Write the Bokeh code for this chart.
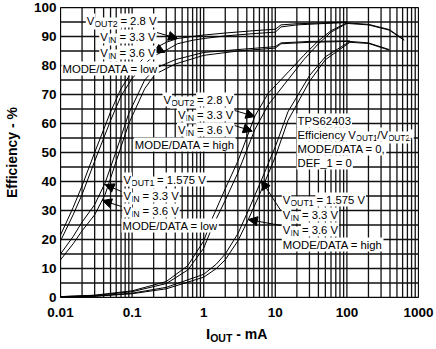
from bokeh.plotting import figure
from bokeh.layouts import column
from bokeh.models import Range1d, FixedTicker, Label, Arrow, NormalHead, Div
from bokeh.embed import file_html
from bokeh.resources import INLINE

# ---------------- data ----------------
x_ticks = [0.01, 0.1, 1, 10, 100, 1000]
x_tick_labels = ["0.01", "0.1", "1", "10", "100", "1000"]
y_ticks = [0, 10, 20, 30, 40, 50, 60, 70, 80, 90, 100]
y_tick_labels = ["0", "10", "20", "30", "40", "50", "60", "70", "80", "90", "100"]

# VOUT2 = 2.8 V, MODE/DATA = low
low_v2_x = [0.01, 0.015, 0.02, 0.03, 0.05, 0.07, 0.1, 0.15, 0.2, 0.3, 0.43, 0.7, 1, 2, 5, 10, 12, 20, 50, 100]
low_v2_vin33 = [21.5, 31, 38.5, 50, 64, 72, 78, 83, 85.7, 88, 89.3, 90, 90.5, 91.2, 92, 92.5, 94, 94.4, 94.7, 95]
low_v2_vin36 = [19.5, 28.5, 35.5, 47, 61, 69.5, 75.5, 80.5, 83.3, 85.3, 87.5, 88.7, 89.3, 90.2, 91, 91.5, 93.3, 94, 94.5, 94.8]

# VOUT1 = 1.575 V, MODE/DATA = low
low_v1_x = [0.01, 0.015, 0.02, 0.03, 0.042, 0.06, 0.09, 0.15, 0.21, 0.4, 1, 3, 10, 12, 30, 110]
low_v1_vin33 = [15, 21, 26, 32, 39.5, 50.5, 63.5, 75, 79, 82, 84.5, 85.5, 86.5, 87.8, 88.3, 88.5]
low_v1_vin36 = [13, 18.5, 23, 28.5, 35.5, 47, 60, 72, 77, 80.5, 83.5, 85, 86, 87.5, 88, 88.3]

# VOUT2 = 2.8 V, MODE/DATA = high
high_v2_x = [0.01, 0.03, 0.1, 0.3, 0.6, 1, 1.3, 2, 3, 5.2, 8, 15.5, 25, 40, 60, 100, 200, 390, 630]
high_v2_vin33 = [0.3, 0.8, 2.3, 5.5, 11, 19.5, 27, 37.5, 47, 62.6, 70.5, 78, 83.5, 88.5, 92, 94.7, 94.2, 92.4, 88.9]
high_v2_vin36 = [0.3, 0.7, 2.0, 4.8, 9.5, 17, 24, 33.5, 43, 58, 66.5, 75.5, 82, 87.5, 91.5, 94.5, 94.0, 92.2, 88.7]

# VOUT1 = 1.575 V, MODE/DATA = high
high_v1_x = [0.01, 0.03, 0.1, 0.3, 1, 1.5, 2, 3, 4.2, 6.4, 10, 15, 30, 50, 110, 200, 390]
high_v1_vin33 = [0.2, 0.5, 1.5, 3.5, 8, 11.5, 15, 22, 30, 40.5, 52, 64, 76.5, 83, 88.3, 87.8, 85.5]
high_v1_vin36 = [0.2, 0.4, 1.3, 3.0, 7, 10, 13, 19.5, 26.9, 37, 48.5, 61, 74.5, 82, 88.0, 87.6, 85.3]

# ---------------- layout helpers ----------------
FONT = "Liberation Sans"
L, R, T, B = 54, 418, 7, 297
FIG_H = 325
DEC = (R - L) / 5.0
YS = (B - T) / 100.0
PAD = 1


def px_x(px):
    return 10 ** (-2 + (px - L) / DEC)


def px_y(py):
    return (B - py) / YS


W = {' ': 278, '=': 584, '.': 278, ',': 278, '/': 278, '_': 556, '-': 333,
     'V': 667, 'O': 778, 'U': 722, 'T': 611, 'I': 278, 'N': 722, 'M': 833, 'D': 722,
     'E': 667, 'A': 667, 'P': 667, 'S': 667, 'F': 611,
     'l': 222, 'o': 556, 'w': 722, 'h': 556, 'i': 222, 'g': 556, 'f': 278, 'c': 500,
     'e': 556, 'n': 556, 'y': 500, 'm': 833}


def tw(s, size):
    return sum(W.get(c, 556) for c in s) * size / 1000.0


MAIN, SUB = 11.3, 8.8

p = figure(width=436, height=FIG_H, x_axis_type="log",
           x_range=Range1d(0.01, 1000), y_range=Range1d(0, 100),
           output_backend="svg", toolbar_location=None,
           min_border_left=L, min_border_right=436 - R,
           min_border_top=T, min_border_bottom=FIG_H - B)
p.background_fill_color = "white"
p.border_fill_color = "white"
p.outline_line_color = "black"
p.outline_line_width = 1
p.outline_line_alpha = 1

x_minor = [m * 10.0 ** k for k in range(-2, 3) for m in range(2, 10)]
y_minor = [v + 5 for v in y_ticks[:-1]]
xt = FixedTicker(ticks=x_ticks, minor_ticks=x_minor)
yt = FixedTicker(ticks=y_ticks, minor_ticks=y_minor)
p.xaxis.ticker = xt
p.yaxis.ticker = yt
p.xaxis.major_label_overrides = dict(zip(x_ticks, x_tick_labels))
p.yaxis.major_label_overrides = dict(zip(y_ticks, y_tick_labels))
p.xgrid.visible = False
p.ygrid.visible = False

for ax in (p.xaxis[0], p.yaxis[0]):
    ax.axis_line_color = None
    ax.major_tick_line_color = None
    ax.minor_tick_line_color = None
    ax.major_tick_in = 0
    ax.major_tick_out = 0
    ax.minor_tick_in = 0
    ax.minor_tick_out = 0
    ax.major_label_text_font = FONT
    ax.major_label_text_font_style = "bold"
    ax.major_label_text_font_size = "13.5px"
    ax.major_label_text_color = "black"
p.xaxis.major_label_standoff = 10
p.yaxis.major_label_standoff = 4
p.yaxis.axis_label = "Efficiency - %"
p.yaxis.axis_label_text_font = FONT
p.yaxis.axis_label_text_font_style = "bold"
p.yaxis.axis_label_text_font_size = "14px"
p.yaxis.axis_label_standoff = 11
p.yaxis.axis_label_text_color = "black"

# grid drawn as glyphs at the tick positions
gx = x_ticks + x_minor
gy = y_ticks + y_minor
GRID = dict(line_color="#111111", line_width=1.3)
p.segment(x0=gx, x1=gx, y0=[y_ticks[0]] * len(gx), y1=[y_ticks[-1]] * len(gx), **GRID)
p.segment(x0=[x_ticks[0]] * len(gy), x1=[x_ticks[-1]] * len(gy), y0=gy, y1=gy, **GRID)

# ---------------- curves ----------------
for xs, ys in [(low_v2_x, low_v2_vin33), (low_v2_x, low_v2_vin36),
               (low_v1_x, low_v1_vin33), (low_v1_x, low_v1_vin36),
               (high_v2_x, high_v2_vin33), (high_v2_x, high_v2_vin36),
               (high_v1_x, high_v1_vin33), (high_v1_x, high_v1_vin36)]:
    p.line(xs, ys, line_color="black", line_width=1)

sub_labels, main_labels = [], []


def add_line(x_px, base_px, runs, align="left"):
    widths = [tw(t, s) for t, s, d in runs]
    total = sum(widths)
    x0 = x_px if align == "left" else x_px - total
    cx = x0
    for i, ((t, s, d), w) in enumerate(zip(runs, widths)):
        lead = len(t) - len(t.lstrip(' '))
        tx = cx + lead * 278 * s / 1000.0
        txt = t.strip()
        if i + 1 < len(runs) and runs[i + 1][0].startswith(' '):
            txt += ' '  # trailing space keeps the white background continuous
        lb = Label(x=px_x(tx - PAD), y=px_y(base_px + d), text=txt,
                   text_font=FONT, text_font_size=f"{s}px",
                   text_baseline="alphabetic", text_align="left",
                   text_color="black",
                   background_fill_color="white", background_fill_alpha=1.0,
                   padding=PAD)
        (sub_labels if d else main_labels).append(lb)
        cx += w


def vline(sub, rest):
    return [("V", MAIN, 0), (sub, SUB, 3), (rest, MAIN, 0)]


def arrow(x0, y0, x1, y1):
    p.add_layout(Arrow(x_start=px_x(x0), y_start=px_y(y0), x_end=px_x(x1), y_end=px_y(y1),
                       line_color="black", line_width=1,
                       end=NormalHead(size=9, fill_color="black", line_color="black",
                                      line_width=1)))


# ---------------- annotations ----------------
# top-left: VOUT2 low
add_line(151, 20, vline("OUT2", " = 2.8 V"), "right")
add_line(150, 36, vline("IN", " = 3.3 V"), "right")
add_line(150, 52, vline("IN", " = 3.6 V"), "right")
add_line(153, 68, [("MODE/DATA = low", MAIN, 0)], "right")
arrow(152, 32, 173, 38)
arrow(152, 48, 160, 52)

# middle: VOUT2 high
add_line(229, 99, vline("OUT2", " = 2.8 V"), "right")
add_line(229, 114, vline("IN", " = 3.3 V"), "right")
add_line(229, 129, vline("IN", " = 3.6 V"), "right")
add_line(231, 144, [("MODE/DATA = high", MAIN, 0)], "right")
arrow(231, 110, 251.7, 116)
arrow(231, 125, 249, 130.7)

# TPS block
add_line(295, 120, [("TPS62403", MAIN, 0)])
add_line(295, 134, [("Efficiency", MAIN, 0), (" V", MAIN, 0), ("OUT1", 8.3, 3),
                    ("/V", MAIN, 0), ("OUT2", 8.3, 3), (",", MAIN, 0)])
add_line(295, 148, [("MODE/DATA = 0,", MAIN, 0)])
add_line(295, 162, [("DEF_1 = 0", MAIN, 0)])

# bottom-left: VOUT1 low
add_line(118, 179, vline("OUT1", " = 1.575 V"))
add_line(118, 195, vline("IN", " = 3.3 V"))
add_line(118, 210, vline("IN", " = 3.6 V"))
add_line(117, 225, [("MODE/DATA = low", MAIN, 0)])
arrow(116, 191, 99.3, 184)
arrow(116, 206, 96.7, 200)

# bottom-right: VOUT1 high
add_line(280, 199, vline("OUT1", " = 1.575 V"))
add_line(280, 214, vline("IN", " = 3.3 V"))
add_line(280, 229, vline("IN", " = 3.6 V"))
add_line(280, 244, [("MODE/DATA = high", MAIN, 0)])
arrow(278, 210, 258.3, 180)
arrow(278, 225, 245, 219)

for lb in sub_labels + main_labels:
    p.add_layout(lb)

# x-axis title  I_OUT - mA
title = Div(
    text=('<span style="font-size:15px">I</span>'
          '<span style="font-size:10.5px;position:relative;top:3px">OUT</span>'
          '<span style="font-size:14px">&nbsp;- mA</span>'),
    width=436, height=349 - FIG_H, margin=0,
    styles={"font-family": FONT, "font-weight": "bold", "color": "black",
            "padding-left": "206px", "padding-top": "1px", "line-height": "16px",
            "white-space": "nowrap"})

layout = column(p, title, spacing=0)
open("out.html", "w").write(file_html(layout, INLINE))
